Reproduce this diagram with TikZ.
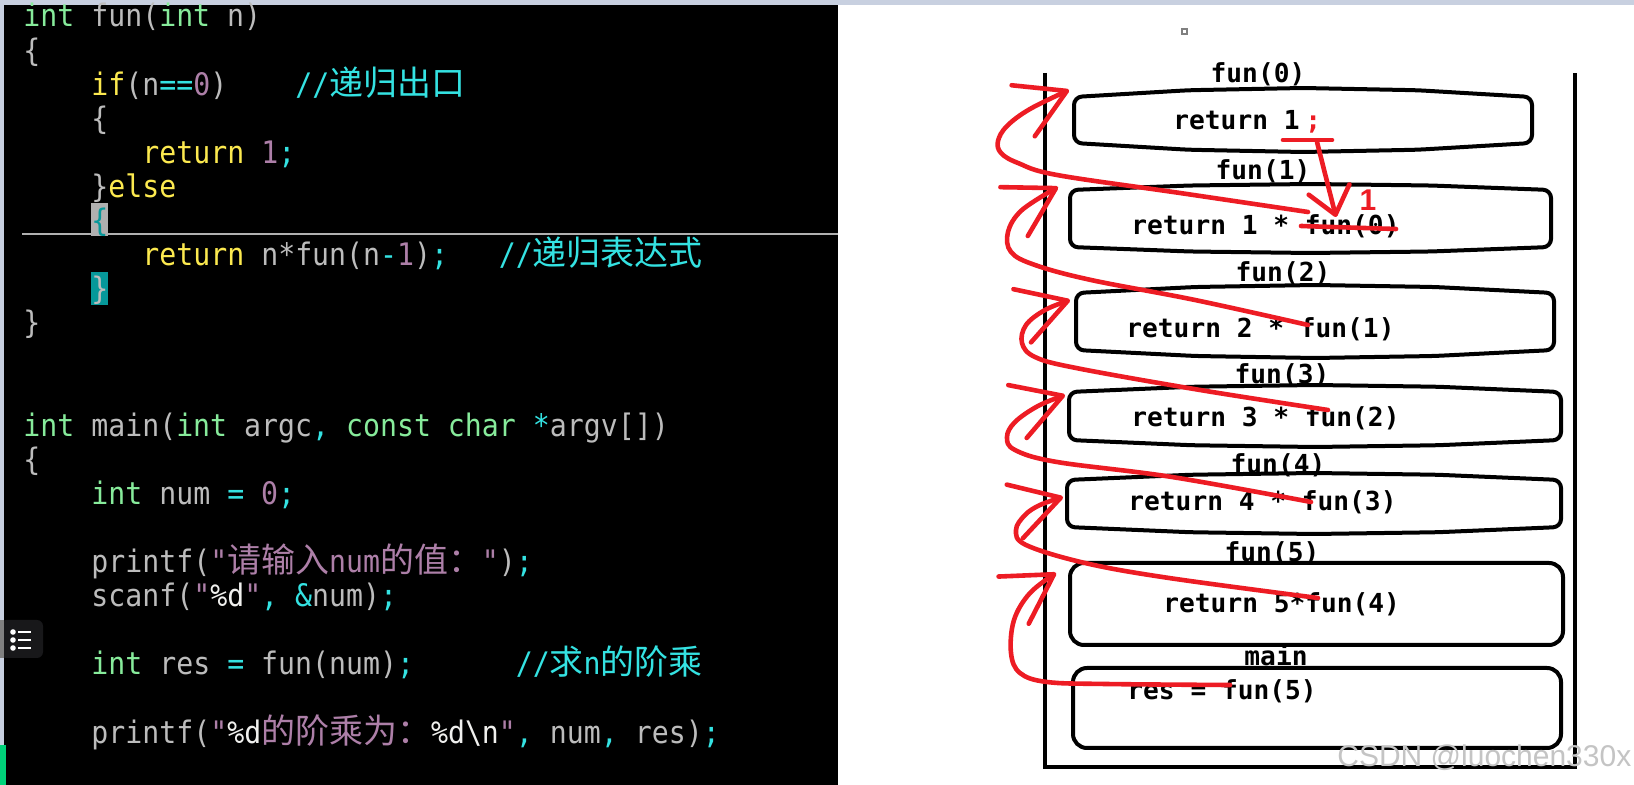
\documentclass[tikz,border=0pt]{standalone}
\usepackage{fontspec}
\usepackage{xcolor}
\usetikzlibrary{arrows.meta,positioning}
\newfontfamily\codefont[FakeStretch=0.91]{DejaVu Sans Mono}
\newfontfamily\cjkfont[Scale=1.0955]{Noto Sans CJK SC}
\newfontfamily\paintfont{DejaVu Sans Mono}
\newfontfamily\marksans{Liberation Sans}

\definecolor{termgreen}{RGB}{135,235,155}
\definecolor{termgray}{RGB}{188,188,188}
\definecolor{termyellow}{RGB}{252,233,79}
\definecolor{termmauve}{RGB}{173,127,168}
\definecolor{termcyan}{RGB}{52,226,226}
\definecolor{termwhite}{RGB}{240,240,238}
\definecolor{hlgray}{RGB}{176,176,176}
\definecolor{hlteal}{RGB}{6,152,154}
\definecolor{penred}{RGB}{237,28,36}
\definecolor{chrome}{RGB}{200,208,224}
\definecolor{iconbg}{RGB}{24,24,26}
\definecolor{bargreen}{RGB}{0,210,122}
\definecolor{markgray}{RGB}{196,196,196}

% syntax colours
\newcommand{\kw}[1]{\textcolor{termgreen}{#1}}
\newcommand{\yw}[1]{\textcolor{termyellow}{#1}}
\newcommand{\mv}[1]{\textcolor{termmauve}{#1}}
\newcommand{\cy}[1]{\textcolor{termcyan}{#1}}
\newcommand{\wt}[1]{\textcolor{termwhite}{#1}}
\newcommand{\zh}[1]{{\cjkfont #1}}

% stack frame: [style] x1, x2, top corner y, bottom corner y, bulge
\newcommand{\barrel}[6][]{%
  \draw[frame,#1] (#2,{(#4+#5)/2}) -- (#2,#4)
    -- ({#2+0.25*(#3-#2)},{#4-0.75*#6}) -- ({(#2+#3)/2},{#4-#6})
    -- ({#3-0.25*(#3-#2)},{#4-0.75*#6}) -- (#3,#4) -- (#3,#5)
    -- ({#3-0.25*(#3-#2)},{#5+0.75*#6}) -- ({(#2+#3)/2},{#5+#6})
    -- ({#2+0.25*(#3-#2)},{#5+0.75*#6}) -- (#2,#5) -- cycle;}

\begin{document}
\begin{tikzpicture}[
    x=0.5pt, y=-0.5pt,
    code/.style={font=\fontsize{15.5}{18}\selectfont\codefont, text=termgray, inner sep=0pt, anchor=base west},
    paint/.style={font=\fontsize{13.1}{15}\selectfont\paintfont\bfseries, inner sep=0pt},
    frame/.style={draw=black, line width=2pt, rounded corners=4pt},
    pen/.style={draw=penred, line width=2.3pt, line cap=round, line join=round},
    hook/.style={pen, -{Straight Barb[length=24pt, width=28pt, round]}}
  ]
    \useasboundingbox (0,0) rectangle (1634,785);
    \fill[white] (0,0) rectangle (1634,785);

    % terminal
    \fill[black] (4,0) rectangle (838,785);
    \fill[chrome] (0,0) rectangle (4,785);
    \fill[chrome] (0,0) rectangle (1634,5);
    \fill[iconbg, rounded corners=3pt] (0,620) rectangle (43,658);
    \fill[gray] (0,620) rectangle (4,658);
    \foreach \y in {632,640,648} {
      \fill[white] (13,\y) circle (1.4pt);
      \draw[white, line width=1.2pt] (18,\y) -- (31,\y);
    }
    \fill[bargreen] (0,745) rectangle (6,785);

    \fill[hlgray] (91,203) rectangle (108,236);
    \fill[hlteal] (91,272) rectangle (108,305);
    \draw[hlgray, line width=1pt] (22,234) -- (838,234);

    \node[code] (ln0) at (23,27) {\kw{int} fun(\kw{int} n)};
    \node[code] (ln1) at (23,61.1) {\{};
    \node[code] (ln2) at (91,95.2) {\yw{if}(n\cy{==}\mv{0})};
    \node[code] (cm2) at (295,95.2) {\cy{//\zh{递归出口}}};
    \node[code] (ln3) at (91,129.3) {\{};
    \node[code] (ln4) at (142,163.4) {\yw{return} \mv{1}\cy{;}};
    \node[code] (ln5) at (91,197.5) {\}\yw{else}};
    \node[code] (ln6) at (91,231.6) {\textcolor{hlteal}{\{}};
    \node[code] (ln7) at (142,265.7) {\yw{return} n*fun(n\cy{-}\mv{1})\cy{;}};
    \node[code] (cm7) at (498.4,265.7) {\cy{//\zh{递归表达式}}};
    \node[code] (ln8) at (91,299.8) {\}};
    \node[code] (ln9) at (23,333.9) {\}};
    \node[code] (ln12) at (23,436.2) {\kw{int} main(\kw{int} argc\cy{,} \kw{const} \kw{char} \cy{*}argv[])};
    \node[code] (ln13) at (23,470.3) {\{};
    \node[code] (ln14) at (91,504.4) {\kw{int} num \cy{=} \mv{0}\cy{;}};
    \node[code] (ln16) at (91,572.6) {printf(\mv{"\zh{请输入}num\zh{的值：}"})\cy{;}};
    \node[code] (ln17) at (91,606.7) {scanf(\mv{"}\wt{\%d}\mv{"}\cy{,} \cy{\&}num)\cy{;}};
    \node[code] (ln19) at (91,674.9) {\kw{int} res \cy{=} fun(num)\cy{;}};
    \node[code] (cm19) at (515.4,674.9) {\cy{//\zh{求}n\zh{的阶乘}}};
    \node[code] (ln21) at (91,743.1) {printf(\mv{"}\wt{\%d}\mv{\zh{的阶乘为：}}\wt{\%d\textbackslash n}\mv{"}\cy{,} num\cy{,} res)\cy{;}};

    % call stack
    \draw[gray, line width=0.6pt] (1182,29) rectangle (1187,34);
    \node[paint, anchor=base] (l0) at (1258,83) {fun(0)};
    \node[paint, anchor=base west] (r0) at (1173,130) {return 1};
    \node[paint, anchor=base west, text=penred] (semi) at (1305,130) {;};
    \node[paint, anchor=base] (l1) at (1263,180) {fun(1)};
    \node[paint, anchor=base west] (r1) at (1131,235) {return 1 * fun(0)};
    \node[paint, anchor=base] (l2) at (1283,282) {fun(2)};
    \node[paint, anchor=base west] (r2) at (1126,338) {return 2 * fun(1)};
    \node[paint, anchor=base] (l3) at (1282,384) {fun(3)};
    \node[paint, anchor=base west] (r3) at (1131,427) {return 3 * fun(2)};
    \node[paint, anchor=base] (l4) at (1278,474) {fun(4)};
    \node[paint, anchor=base west] (r4) at (1128,511) {return 4 * fun(3)};
    \node[paint, anchor=base] (l5) at (1272,562) {fun(5)};
    \node[paint, anchor=base west] (r5) at (1163,613) {return 5*fun(4)};
    \node[paint, anchor=base] (lm) at (1276,666) {main};
    \node[paint, anchor=base west] (rm) at (1127,700) {res = fun(5)};

    \draw[line width=2pt] (1045,73) -- (1045,767) -- (1575,767) -- (1575,73);
    \barrel{1074}{1532}{97}{143}{9}
    \barrel{1070}{1551}{190}{247}{6}
    \barrel{1076}{1554}{293}{350}{8}
    \barrel{1069}{1561}{392}{440}{7}
    \barrel{1067}{1561}{480}{527}{7}
    \barrel[rounded corners=7pt]{1070}{1563}{563}{645}{0}
    \barrel[rounded corners=7pt]{1073}{1561}{668}{748}{0}

    % red marks
    \coordinate (call0) at (1308,212);
    \coordinate (call1) at (1308,325);
    \coordinate (call2) at (1328,410);
    \coordinate (call3) at (1311,502);
    \coordinate (call4) at (1318,598);
    \coordinate (call5) at (1230,685);
    \coordinate (ret0) at (1069,90);
    \coordinate (ret1) at (1058,187);
    \coordinate (ret2) at (1070,300);
    \coordinate (ret3) at (1065,395);
    \coordinate (ret4) at (1063,497);
    \coordinate (ret5) at (1056,573);
    \draw[hook] plot[smooth, tension=0.6] coordinates {(call0) (1180,193) (1057,175) (1018,163) (1001,153) (998,141) (1007,126) (1030,109) (ret0)};
    \draw[hook] plot[smooth, tension=0.6] coordinates {(call1) (1195,300) (1091,280) (1035,265) (1011,252) (1008,232) (1022,210) (ret1)};
    \draw[hook] plot[smooth, tension=0.6] coordinates {(call2) (1200,390) (1076,368) (1035,357) (1022,343) (1026,325) (1045,310) (ret2)};
    \draw[hook] plot[smooth, tension=0.6] coordinates {(call3) (1172,477) (1057,462) (1015,450) (1007,437) (1015,422) (1038,406) (ret3)};
    \draw[hook] plot[smooth, tension=0.6] coordinates {(call4) (1169,578) (1085,563) (1026,545) (1016,530) (1025,515) (1040,505) (ret4)};
    \draw[hook] plot[smooth, tension=0.6] coordinates {(call5) (1106,684) (1047,682) (1020,673) (1011,653) (1014,620) (1030,593) (ret5)};

    \coordinate (drop) at (1317,142);
    \coordinate (land) at (1336,217);
    \draw[pen] (1283,140) -- (1332,140);
    \draw[pen] (1301,226) -- (1396,229);
    \draw[pen, -{Straight Barb[length=13pt, width=21pt, round]}] (drop) -- (land);
    \node[font=\fontsize{15}{17}\selectfont\marksans\bfseries, text=penred, inner sep=0pt] (one) at (1368,200) {1};

    \node[font=\fontsize{15}{18}\selectfont\marksans, text=markgray, anchor=base west, inner sep=0pt] (mark) at (1337,767) {CSDN @luochen330x};
  \end{tikzpicture}
\end{document}
